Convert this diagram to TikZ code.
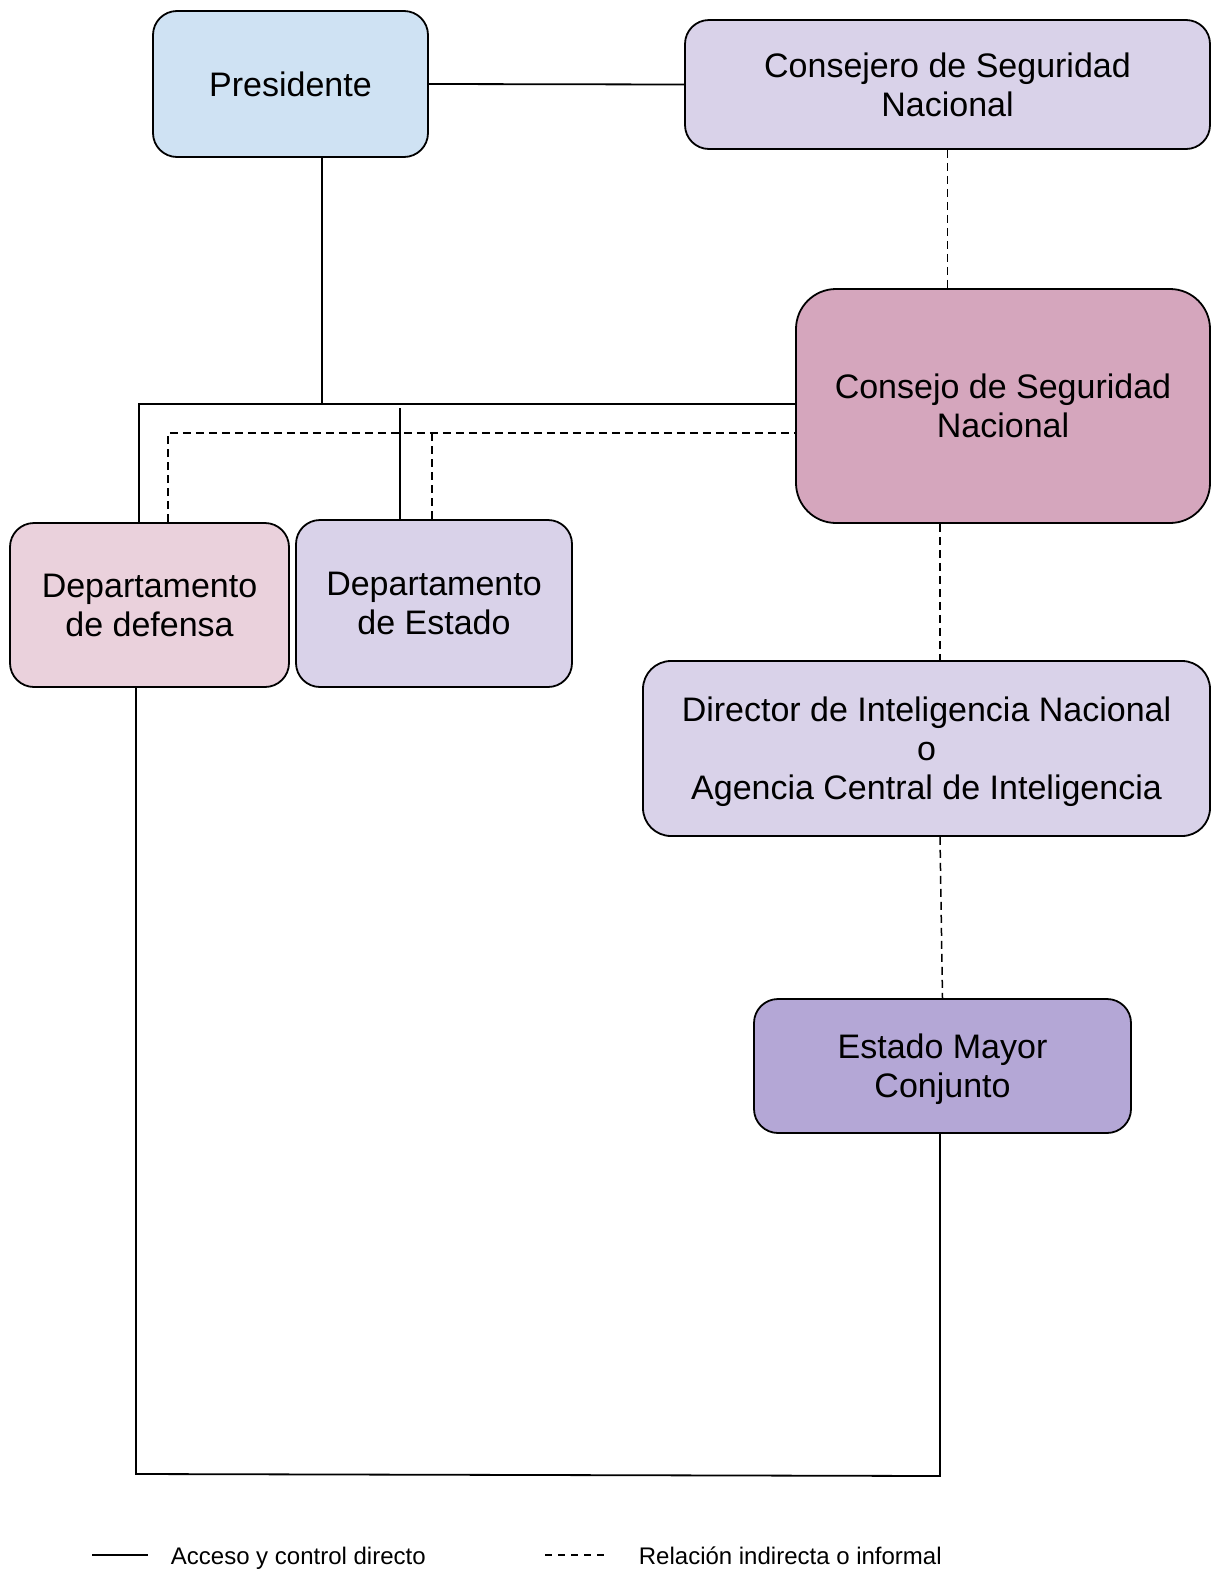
\documentclass[tikz,border=0pt]{standalone}
\usepackage{fontspec}
\setmainfont{Liberation Sans}
\usepackage{tikz}
\newcommand{\boxFont}[0]{\fontsize{34}{39}\selectfont}
\newcommand{\keyFont}[0]{\fontsize{24}{28}\selectfont}
\definecolor{presblue}{HTML}{CFE2F3}
\definecolor{lavender}{HTML}{D9D2E9}
\definecolor{mauve}{HTML}{D5A6BD}
\definecolor{palepink}{HTML}{EAD1DC}
\definecolor{violet}{HTML}{B4A7D6}

\begin{document}
\begin{tikzpicture}[x=1pt, y=-1pt, line width=1.8pt]
  \tikzset{box/.style={draw, rounded corners=24pt, align=center, inner sep=0pt, text depth=-3pt, font=\boxFont},
           informal/.style={dashed, dash pattern=on 8pt off 5pt, line width=1.5pt}}
  \useasboundingbox (0,0) rectangle (1213,1572);
  \node[box, fill=presblue, minimum width=275pt, minimum height=146pt] (Pres) at (290.5,84) {Presidente};
  \node[box, fill=lavender, minimum width=525pt, minimum height=129pt] (Cons-1) at (947.5,84.5) {Consejero de Seguridad\\Nacional};
  \node[box, fill=mauve, rounded corners=40pt, minimum width=414pt, minimum height=234pt] (Cons-2) at (1003,406) {Consejo de Seguridad\\Nacional};
  \node[box, fill=palepink, minimum width=279pt, minimum height=164pt] (Dep-1) at (149.5,605) {Departamento\\de defensa};
  \node[box, fill=lavender, minimum width=276pt, minimum height=167pt] (Dep-2) at (434,603.5) {Departamento\\de Estado};
  \node[box, fill=lavender, rounded corners=28pt, minimum width=567pt, minimum height=175pt] (Dir-1) at (926.5,748.5) {Director de Inteligencia Nacional\\o\\Agencia Central de Inteligencia};
  \node[box, fill=violet, minimum width=377pt, minimum height=134pt] (EM-1) at (942.5,1066) {Estado Mayor\\Conjunto};
  % junctions
  \coordinate (J-P) at (322,405);
  \coordinate (J-L) at (139,404);
  \coordinate (J-E) at (400,408);
  \coordinate (D-L) at (168,433);
  \coordinate (D-E) at (432,433);
  \coordinate (J-B1) at (136,1474);
  \coordinate (J-B2) at (940,1476);
  % direct access
  \draw (Pres.east) -- (Cons-1.west);
  \draw (Pres.south -| J-P) -- (J-P);
  \draw (J-L |- Dep-1.north) -- (J-L) -- (J-L -| Cons-2.west);
  \draw (J-E) -- (J-E |- Dep-2.north);
  \draw (Dep-1.south -| J-B1) -- (J-B1) -- (J-B2) -- (J-B2 |- EM-1.south);
  % informal
  \draw[informal] (Cons-1.south) -- (Cons-1.south |- Cons-2.north);
  \draw[informal] (D-L |- Dep-1.north) -- (D-L) -- (D-L -| Cons-2.west);
  \draw[informal] (D-E) -- (D-E |- Dep-2.north);
  \draw[informal] ([xshift=-63pt]Cons-2.south) -- ([xshift=13.5pt]Dir-1.north);
  \draw[informal] ([xshift=13.5pt]Dir-1.south) -- (EM-1.north);
  % key
  \coordinate (K-1) at (92,1555);
  \coordinate (K-2) at (545,1555);
  \node[anchor=base west, inner sep=0pt, font=\keyFont] (Key-1) at (170,1564) {Acceso y control directo};
  \node[anchor=base west, inner sep=0pt, font=\keyFont] (Key-2) at (638,1564) {Relación indirecta o informal};
  \draw (K-1) -- ++(56,0);
  \draw[dashed, dash pattern=on 7pt off 6pt, line width=1.5pt] (K-2) -- ++(60,0);
\end{tikzpicture}
\end{document}
